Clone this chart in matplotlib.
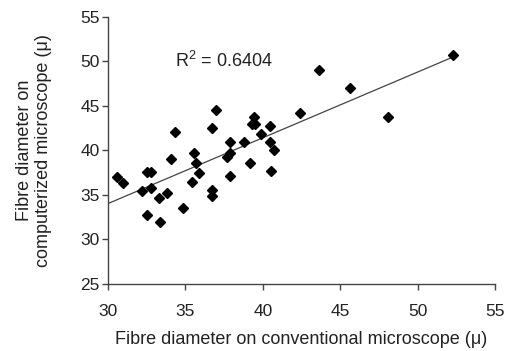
import matplotlib
matplotlib.use('Agg')
from matplotlib import pyplot as plt
import numpy as np

# fibre diameter readings (micron)
conventional = [30.6, 31.0, 32.2, 32.5, 32.5, 32.75, 32.8, 33.3, 33.35, 33.8,
                34.05, 34.3, 34.85, 35.45, 35.55, 35.7, 35.9, 36.7, 36.7, 36.7,
                36.95, 37.7, 37.85, 37.9, 37.9, 38.8, 39.2, 39.3, 39.4, 39.5,
                39.9, 40.45, 40.45, 40.55, 40.7, 42.4, 43.6, 45.65, 48.1, 52.3]
computerized = [37.0, 36.3, 35.4, 32.7, 37.5, 37.5, 35.75, 34.6, 31.9, 35.2,
                39.0, 42.0, 33.5, 36.4, 39.7, 38.6, 37.4, 42.5, 35.5, 34.8,
                44.5, 39.2, 39.7, 40.9, 37.1, 40.9, 38.6, 43.0, 43.7, 42.9,
                41.8, 42.7, 40.9, 37.7, 40.0, 44.2, 49.0, 47.0, 43.7, 50.7]
r_squared = 0.6404

plt.rcParams['font.family'] = ['Liberation Sans', 'DejaVu Sans']
plt.rcParams['mathtext.fontset'] = 'custom'
plt.rcParams['mathtext.rm'] = 'Liberation Sans'

fig = plt.figure(figsize=(5.09, 3.51), dpi=100)
ax = fig.add_axes([0.212, 0.192, 0.761, 0.76])

x = np.array(conventional)
y = np.array(computerized)
slope, icpt = np.polyfit(x, y, 1)
xl = np.array([30, x.max()])
ax.plot(xl, slope * xl + icpt, color='#444444', lw=0.9)
ax.plot(x, y, 'D', color='black', ms=4.8, mec='black')

ax.text(34.3, 50, r'R$^{\mathregular{2}}$ = ' + '{:.4f}'.format(r_squared),
        fontsize=13, va='center', ha='left', color='#222222')

ax.set_xlim(30, 55)
ax.set_ylim(25, 55)
ax.set_xticks(range(30, 56, 5))
ax.set_yticks(range(25, 56, 5))
for s in ['top', 'right']:
    ax.spines[s].set_visible(False)
for s in ['left', 'bottom']:
    ax.spines[s].set_color('#444444')
    ax.spines[s].set_linewidth(1.0)
ax.tick_params(direction='out', length=4, width=1, color='#444444',
               labelsize=12.5, labelcolor='#222222')
ax.tick_params(axis='x', pad=11)
ax.tick_params(axis='y', pad=2)
ax.set_xlabel('Fibre diameter on conventional microscope (μ)', fontsize=13,
              labelpad=8, color='#222222')
ax.set_ylabel('Fibre diameter on\ncomputerized microscope (μ)', fontsize=13,
              labelpad=20, color='#222222')

fig.savefig('out.png', dpi=100)
